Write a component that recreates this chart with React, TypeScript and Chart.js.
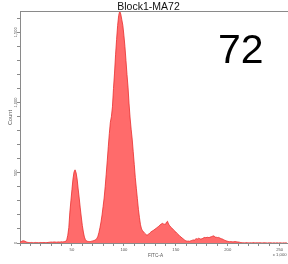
import React, { useEffect, useRef } from "react";
import { Chart, registerables } from "chart.js";

Chart.register(...registerables);

const chartTitle = "Block1-MA72";
const sampleLabel = "72";
const xAxisTitle = "FITC-A";
const yAxisTitle = "Count";
const xMin = 0;
const xMax = 258;
const yMin = 0;
const yMax = 1652;
const xMajorTicks = [50, 100, 150, 200, 250];
const xScaleSuffix = "x 1,000";
const yMajorTicks = [0, 500, 1000, 1500];
const yTickLabels = ["0", "500", "1,000", "1,500"];
const binStart = 0;
const binWidth = 1;
// histogram counts, one bin per 1,000 units of FITC-A, starting at 0
const binCounts = [
  4, 9, 14, 16, 15, 12, 8, 5, 4, 3,
  3, 4, 3, 2, 3, 4, 3, 3, 2, 3,
  4, 3, 3, 4, 3, 2, 3, 4, 5, 6,
  7, 6, 7, 8, 7, 6, 7, 8, 7, 8,
  9, 8, 9, 10, 12, 22, 55, 110, 220, 300,
  380, 455, 505, 521, 500, 455, 385, 320, 250, 185,
  125, 78, 42, 24, 15, 12, 11, 10, 11, 13,
  15, 17, 20, 25, 32, 48, 75, 110, 150, 200,
  260, 320, 400, 490, 585, 685, 780, 860, 900, 970,
  1100, 1210, 1340, 1450, 1550, 1620, 1652, 1630, 1590, 1550,
  1480, 1400, 1300, 1200, 1110, 990, 890, 810, 740, 650,
  560, 465, 390, 315, 240, 180, 130, 100, 88, 78,
  70, 63, 57, 58, 64, 72, 78, 84, 88, 93,
  99, 104, 110, 116, 121, 130, 135, 140, 136, 134,
  132, 148, 155, 135, 124, 115, 108, 100, 92, 85,
  78, 70, 63, 56, 48, 42, 36, 30, 24, 18,
  15, 13, 14, 12, 15, 17, 20, 22, 21, 28,
  31, 29, 34, 31, 28, 30, 33, 38, 40, 37,
  41, 40, 38, 42, 44, 47, 51, 48, 42, 41,
  39, 40, 37, 33, 30, 28, 24, 20, 17, 14,
  12, 10, 9, 10, 9, 8, 9, 10, 9, 8,
  7, 6, 4, 3, 2, 2, 1, 2, 3, 2,
  1, 1, 2, 1, 2, 3, 1, 1, 2, 1,
  1, 2, 1, 0, 1, 2, 1, 1, 0, 1,
  1, 2, 1, 0, 1, 1, 0, 1, 1, 0,
  1, 1, 0, 0, 1, 0, 1, 0,
];

const FONT = '"Liberation Sans", Arial, sans-serif';
const AXIS_GRAY = "#8a8a8a";
const TEXT_GRAY = "#555";

export default function App() {
  const ref = useRef<HTMLCanvasElement | null>(null);

  useEffect(() => {
    document.body.style.margin = "0";
    const canvas = ref.current;
    if (!canvas) return;

    const decor = {
      id: "decor",
      afterDraw(chart: any) {
        const { ctx, chartArea, scales } = chart;
        const ys = scales.y;
        ctx.save();
        // top frame line
        ctx.strokeStyle = AXIS_GRAY;
        ctx.lineWidth = 1;
        ctx.beginPath();
        ctx.moveTo(chartArea.left, chartArea.top + 0.5);
        ctx.lineTo(chartArea.right, chartArea.top + 0.5);
        ctx.stroke();

        // title
        ctx.fillStyle = "#111";
        ctx.font = `10.5px ${FONT}`;
        ctx.textAlign = "center";
        ctx.textBaseline = "alphabetic";
        ctx.fillText(chartTitle, 148.5, 9.7);

        // big sample label
        ctx.font = `41px ${FONT}`;
        ctx.textAlign = "left";
        ctx.fillStyle = "#000";
        ctx.fillText(sampleLabel, 218, 62.7);

        // y tick labels (rotated)
        ctx.fillStyle = TEXT_GRAY;
        ctx.font = `4px ${FONT}`;
        ctx.textAlign = "center";
        ctx.textBaseline = "middle";
        yMajorTicks.forEach((v, i) => {
          const y = ys.getPixelForValue(v);
          ctx.save();
          ctx.translate(15.5, y);
          ctx.rotate(-Math.PI / 2);
          ctx.fillText(yTickLabels[i], 0, 0);
          ctx.restore();
        });

        // y axis title
        ctx.save();
        ctx.font = `5.6px ${FONT}`;
        ctx.translate(10.5, 117.5);
        ctx.rotate(-Math.PI / 2);
        ctx.fillText(yAxisTitle, 0, 0);
        ctx.restore();

        // x axis title
        ctx.font = `4.7px ${FONT}`;
        ctx.fillText(xAxisTitle, 155.5, 255.8);
        ctx.restore();
      },
    };

    const chart = new Chart(canvas, {
      type: "line",
      data: {
        datasets: [
          {
            data: binCounts.map((c, i) => ({ x: binStart + i * binWidth, y: c })),
            fill: "origin",
            backgroundColor: "rgb(255,107,107)",
            borderColor: "rgb(232,45,45)",
            borderWidth: 0.8,
            pointRadius: 0,
            tension: 0,
          },
        ],
      },
      options: {
        animation: false,
        responsive: false,
        devicePixelRatio: 1,
        layout: { padding: { top: 11, left: 0, right: 0, bottom: 0 } },
        plugins: {
          legend: { display: false },
          tooltip: { enabled: false },
          title: { display: false },
        },
        scales: {
          x: {
            type: "linear",
            min: xMin,
            max: xMax,
            afterFit(s: any) {
              s.height = 21;
            },
            grid: {
              drawOnChartArea: false,
              tickLength: 3,
              tickColor: (c: any) =>
                c.tick && c.tick.value % 10 === 0 ? AXIS_GRAY : "rgba(0,0,0,0)",
            },
            border: { color: AXIS_GRAY },
            ticks: {
              stepSize: 10,
              includeBounds: false,
              autoSkip: false,
              maxRotation: 0,
              minRotation: 0,
              padding: 1,
              color: TEXT_GRAY,
              font: { family: FONT, size: 4.2 },
              callback: (v: any) => {
                const n = Number(v);
                if (!xMajorTicks.includes(n)) return "";
                return n === 250 ? [String(n), xScaleSuffix] : String(n);
              },
            },
          },
          y: {
            type: "linear",
            min: yMin,
            max: yMax,
            afterFit(s: any) {
              s.width = 20;
            },
            grid: {
              drawOnChartArea: false,
              tickLength: 3,
              tickColor: (c: any) =>
                c.tick && c.tick.value % 100 === 0 ? AXIS_GRAY : "rgba(0,0,0,0)",
            },
            border: { color: AXIS_GRAY },
            ticks: {
              stepSize: 100,
              includeBounds: false,
              autoSkip: false,
              font: { family: FONT, size: 4 },
              callback: () => "",
            },
          },
        },
      },
      plugins: [decor],
    });

    return () => chart.destroy();
  }, []);

  return (
    <div style={{ width: 288, height: 264 }}>
      <canvas ref={ref} width={288} height={264} style={{ display: "block", width: 288, height: 264 }} />
    </div>
  );
}
